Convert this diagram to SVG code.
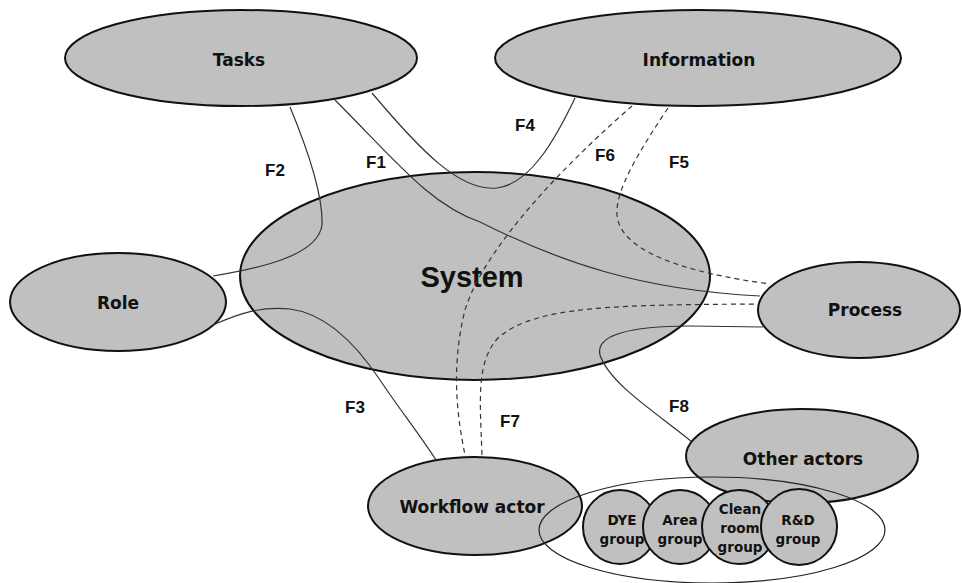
<svg xmlns="http://www.w3.org/2000/svg" width="962" height="583" viewBox="0 0 962 583">
  <style>
    .node { fill: #c0c0c0; stroke: #111; stroke-width: 2; }
    .grp { fill: none; stroke: #222; stroke-width: 1.2; }
    .lbl { font-family: "DejaVu Sans", Verdana, sans-serif; font-weight: bold; font-size: 17px; fill: #111; text-anchor: middle; }
    .small { font-family: "DejaVu Sans", Verdana, sans-serif; font-weight: bold; font-size: 13.5px; fill: #111; text-anchor: middle; }
    .big { font-family: "Liberation Sans", Arial, sans-serif; font-weight: bold; font-size: 29px; fill: #111; text-anchor: middle; }
    .flab { font-family: "Liberation Sans", Arial, sans-serif; font-weight: bold; font-size: 17px; fill: #111; text-anchor: middle; }
    .link { fill: none; stroke: #333; stroke-width: 1.2; }
    .dash { stroke-dasharray: 5 4; }
  </style>
  <rect width="962" height="583" fill="#fff"/>

  <g id="tasks">
    <ellipse class="node" cx="241" cy="58" rx="176" ry="48"/>
    <text class="lbl" x="239" y="66">Tasks</text>
  </g>
  <g id="information">
    <ellipse class="node" cx="698" cy="58" rx="203" ry="48"/>
    <text class="lbl" x="699" y="66">Information</text>
  </g>
  <g id="system">
    <ellipse class="node" cx="475" cy="276" rx="235" ry="104"/>
    <text class="big" x="472" y="287">System</text>
  </g>
  <g id="role">
    <ellipse class="node" cx="118" cy="302" rx="108" ry="49"/>
    <text class="lbl" x="118" y="309">Role</text>
  </g>
  <g id="process">
    <ellipse class="node" cx="859" cy="310" rx="101" ry="48"/>
    <text class="lbl" x="865" y="316">Process</text>
  </g>
  <g id="other-actors">
    <ellipse class="node" cx="802" cy="456" rx="116" ry="47"/>
    <text class="lbl" x="803" y="465">Other actors</text>
  </g>
  <g id="workflow-actor">
    <ellipse class="node" cx="475" cy="506" rx="107" ry="49"/>
    <text class="lbl" x="472" y="513">Workflow actor</text>
  </g>

  <g id="connectors">
    <!-- F1 Tasks to Process -->
    <path class="link" d="M335,100 C395,160 430,205 480,222 C560,262 640,290 760,296"/>
    <!-- F2 Tasks to Role -->
    <path class="link" d="M290,107 C312,160 323,200 322,225 C318,255 262,268 213,276"/>
    <!-- F3 Role to Workflow actor -->
    <path class="link" d="M213,325 C240,313 262,306 290,309 C330,314 360,350 380,380 C400,410 420,435 436,460"/>
    <!-- F4 Tasks to Information -->
    <path class="link" d="M372,93 C420,150 460,192 497,188 C530,184 555,140 575,98"/>
    <!-- F5 Information to Process -->
    <path class="link dash" d="M668,108 C640,150 615,190 617,215 C620,250 680,272 770,284"/>
    <!-- F6 Information to Workflow actor -->
    <path class="link dash" d="M632,106 C570,160 485,245 465,310 C450,370 458,420 465,455"/>
    <!-- F7 Workflow actor to Process -->
    <path class="link dash" d="M482,455 C480,400 476,362 498,338 C535,305 620,305 758,304"/>
    <!-- F8 Process to Other actors -->
    <path class="link" d="M763,327 L690,326 C630,326 595,335 600,355 C610,385 660,415 692,442"/>

    <text class="flab" x="376" y="168">F1</text>
    <text class="flab" x="275" y="176">F2</text>
    <text class="flab" x="355" y="413">F3</text>
    <text class="flab" x="525" y="131">F4</text>
    <text class="flab" x="679" y="168">F5</text>
    <text class="flab" x="605" y="161">F6</text>
    <text class="flab" x="510" y="427">F7</text>
    <text class="flab" x="679" y="412">F8</text>
  </g>

  <g id="actor-groups">
    <ellipse class="grp" cx="712" cy="530" rx="173" ry="53"/>
  </g>
  <g id="dye-group">
    <circle class="node" cx="620" cy="527" r="37"/>
    <text class="small" x="622" y="525">DYE</text>
    <text class="small" x="622" y="544">group</text>
  </g>
  <g id="area-group">
    <circle class="node" cx="680" cy="527" r="37"/>
    <text class="small" x="680" y="525">Area</text>
    <text class="small" x="680" y="544">group</text>
  </g>
  <g id="cleanroom-group">
    <circle class="node" cx="739" cy="527" r="37"/>
    <text class="small" x="740" y="514">Clean</text>
    <text class="small" x="740" y="533">room</text>
    <text class="small" x="740" y="552">group</text>
  </g>
  <g id="rd-group">
    <circle class="node" cx="799" cy="527" r="38"/>
    <text class="small" x="798" y="525">R&amp;D</text>
    <text class="small" x="798" y="544">group</text>
  </g>
</svg>
